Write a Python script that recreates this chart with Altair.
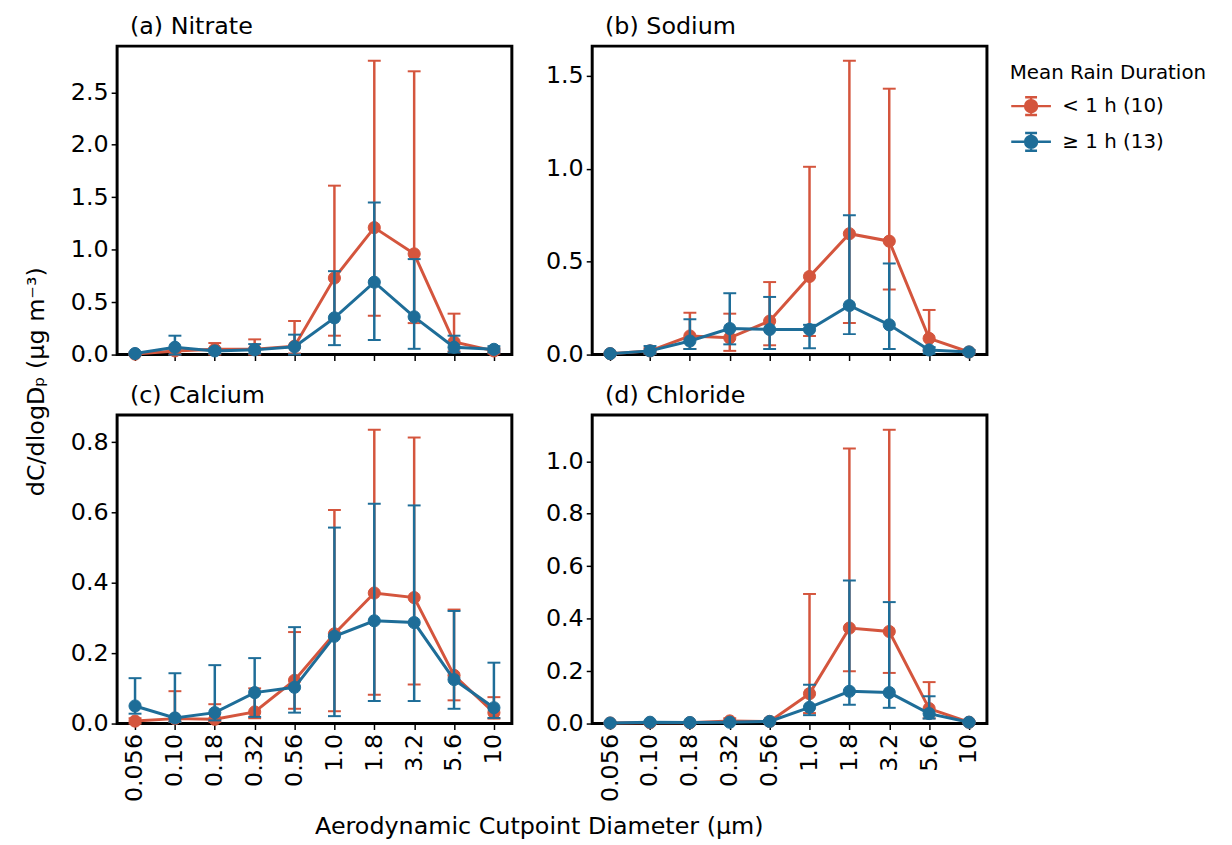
import altair as alt
import pandas as pd

FONT = "DejaVu Sans"

sizes = ["0.056", "0.10", "0.18", "0.32", "0.56", "1.0", "1.8", "3.2", "5.6", "10"]
groups = ["< 1 h (10)", "≥ 1 h (13)"]
colors = ["#d4553d", "#1e6d98"]

# (a) Nitrate
nit_lt_mean = [0.005, 0.035, 0.05, 0.05, 0.08, 0.73, 1.21, 0.96, 0.12, 0.035]
nit_lt_lo = [0.0, 0.0, 0.0, 0.0, 0.01, 0.18, 0.37, 0.30, 0.03, 0.01]
nit_lt_hi = [0.02, 0.06, 0.11, 0.145, 0.32, 1.61, 2.80, 2.70, 0.39, 0.06]
nit_ge_mean = [0.01, 0.07, 0.035, 0.045, 0.075, 0.35, 0.69, 0.36, 0.07, 0.05]
nit_ge_lo = [0.0, 0.0, 0.01, 0.01, 0.0, 0.09, 0.14, 0.055, 0.02, 0.02]
nit_ge_hi = [0.02, 0.18, 0.06, 0.10, 0.19, 0.795, 1.45, 0.91, 0.18, 0.08]

# (b) Sodium
sod_lt_mean = [0.005, 0.02, 0.10, 0.09, 0.18, 0.42, 0.65, 0.61, 0.087, 0.014]
sod_lt_lo = [0.0, 0.005, 0.03, 0.02, 0.05, 0.10, 0.17, 0.35, 0.02, 0.005]
sod_lt_hi = [0.01, 0.035, 0.225, 0.22, 0.39, 1.01, 1.58, 1.43, 0.24, 0.025]
sod_ge_mean = [0.005, 0.02, 0.073, 0.14, 0.135, 0.135, 0.264, 0.16, 0.025, 0.014]
sod_ge_lo = [0.0, 0.005, 0.03, 0.055, 0.03, 0.034, 0.11, 0.03, 0.005, 0.005]
sod_ge_hi = [0.01, 0.046, 0.19, 0.33, 0.31, 0.16, 0.75, 0.49, 0.04, 0.025]

# (c) Calcium
cal_lt_mean = [0.007, 0.014, 0.012, 0.033, 0.123, 0.255, 0.371, 0.358, 0.137, 0.031]
cal_lt_lo = [0.0, 0.005, 0.005, 0.015, 0.042, 0.035, 0.082, 0.111, 0.066, 0.014]
cal_lt_hi = [0.015, 0.092, 0.055, 0.10, 0.26, 0.607, 0.835, 0.813, 0.324, 0.075]
cal_ge_mean = [0.05, 0.016, 0.031, 0.088, 0.103, 0.248, 0.292, 0.287, 0.125, 0.045]
cal_ge_lo = [0.028, 0.005, 0.009, 0.019, 0.031, 0.021, 0.064, 0.064, 0.042, 0.016]
cal_ge_hi = [0.129, 0.143, 0.166, 0.186, 0.274, 0.557, 0.625, 0.62, 0.32, 0.173]

# (d) Chloride
chl_lt_mean = [0.002, 0.003, 0.003, 0.01, 0.008, 0.114, 0.364, 0.351, 0.057, 0.005]
chl_lt_lo = [0.0, 0.0, 0.0, 0.003, 0.003, 0.04, 0.199, 0.193, 0.02, 0.002]
chl_lt_hi = [0.004, 0.006, 0.006, 0.02, 0.014, 0.494, 1.049, 1.12, 0.158, 0.008]
chl_ge_mean = [0.002, 0.005, 0.004, 0.005, 0.008, 0.062, 0.123, 0.118, 0.038, 0.005]
chl_ge_lo = [0.0, 0.002, 0.002, 0.002, 0.004, 0.032, 0.072, 0.06, 0.019, 0.002]
chl_ge_hi = [0.004, 0.008, 0.006, 0.008, 0.012, 0.148, 0.545, 0.463, 0.104, 0.008]

yticks_a = [0.0, 0.5, 1.0, 1.5, 2.0, 2.5]
yticks_b = [0.0, 0.5, 1.0, 1.5]
yticks_c = [0.0, 0.2, 0.4, 0.6, 0.8]
yticks_d = [0.0, 0.2, 0.4, 0.6, 0.8, 1.0]

LEGEND_PATH = ("M-1,0L1,0M0,-0.45L0,0.45M-0.3,-0.45L0.3,-0.45M-0.3,0.45L0.3,0.45"
               "M-0.3,0A0.3,0.3,0,1,0,0.3,0A0.3,0.3,0,1,0,-0.3,0Z")

legend = alt.Legend(
    title="Mean Rain Duration", titleFontSize=20, labelFontSize=20,
    titleFont=FONT, labelFont=FONT, titleFontWeight="normal",
    titleColor="black", labelColor="black", titleLimit=400, labelLimit=300,
    symbolType=LEGEND_PATH, symbolSize=1600, symbolStrokeWidth=2.5,
    symbolOpacity=1, labelOffset=10, rowPadding=-2, titlePadding=2,
    orient="right", offset=4, padding=17,
)
cscale = alt.Scale(domain=groups, range=colors)


def panel(title, lt, ge, yticks, show_labels):
    frames = []
    for g, (m, lo, hi) in zip(groups, (lt, ge)):
        frames.append(pd.DataFrame({"size": sizes, "group": g, "mean": m, "lo": lo, "hi": hi}))
    df = pd.concat(frames, ignore_index=True)
    ymax = 1.05 * float(df["hi"].max())

    xaxis = alt.Axis(
        title=None, labels=show_labels, labelAngle=270, labelFontSize=24, labelFont=FONT,
        labelColor="black", ticks=True, tickSize=6, tickWidth=1.5, tickColor="black",
        domain=False, grid=False, labelPadding=4,
    )
    yaxis = alt.Axis(
        title=None, values=yticks, format=".1f", labelFontSize=24, labelFont=FONT,
        labelColor="black", tickSize=6, tickWidth=1.5, tickColor="black",
        domain=False, grid=False, labelPadding=3,
    )
    x = alt.X("size:O", sort=sizes, scale=alt.Scale(type="point", padding=0.45), axis=xaxis)
    ysc = alt.Scale(domain=[0, ymax], nice=False, zero=True)

    layers = []
    for g, c in zip(groups, colors):
        sub = df[df["group"] == g]
        base = alt.Chart(sub)
        layers.append(base.mark_rule(color=c, strokeWidth=2.5).encode(
            x=x, y=alt.Y("lo:Q", scale=ysc, axis=yaxis), y2="hi:Q"))
        layers.append(base.mark_tick(color=c, size=13, thickness=2, opacity=1).encode(
            x=x, y=alt.Y("lo:Q", scale=ysc, axis=yaxis)))
        layers.append(base.mark_tick(color=c, size=13, thickness=2, opacity=1).encode(
            x=x, y=alt.Y("hi:Q", scale=ysc, axis=yaxis)))
        layers.append(base.mark_line(color=c, strokeWidth=3).encode(
            x=x, y=alt.Y("mean:Q", scale=ysc, axis=yaxis)))
        layers.append(base.mark_point(filled=True, size=150, opacity=1, strokeWidth=1).encode(
            x=x, y=alt.Y("mean:Q", scale=ysc, axis=yaxis),
            fill=alt.Fill("group:N", scale=cscale, legend=legend),
            stroke=alt.Stroke("group:N", scale=cscale, legend=legend),
        ))
    return alt.layer(*layers).properties(
        width=398, height=311,
        title=alt.TitleParams(text=title, anchor="start", frame="group", fontSize=24, font=FONT,
                              fontWeight="normal", color="black", offset=7, dx=13),
    )


pa = panel("(a) Nitrate", (nit_lt_mean, nit_lt_lo, nit_lt_hi), (nit_ge_mean, nit_ge_lo, nit_ge_hi), yticks_a, False)
pb = panel("(b) Sodium", (sod_lt_mean, sod_lt_lo, sod_lt_hi), (sod_ge_mean, sod_ge_lo, sod_ge_hi), yticks_b, False)
pc = panel("(c) Calcium", (cal_lt_mean, cal_lt_lo, cal_lt_hi), (cal_ge_mean, cal_ge_lo, cal_ge_hi), yticks_c, True)
pd_ = panel("(d) Chloride", (chl_lt_mean, chl_lt_lo, chl_lt_hi), (chl_ge_mean, chl_ge_lo, chl_ge_hi), yticks_d, True)

row1 = alt.hconcat(pa, pb, spacing=30).resolve_scale(y="independent")
row2 = alt.hconcat(pc, pd_, spacing=30).resolve_scale(y="independent")

grid = alt.vconcat(row1, row2, spacing=14).properties(
    title=alt.TitleParams(text="dC/dlogDₚ (μg m⁻³)", orient="left", anchor="middle",
                          fontSize=24, font=FONT, fontWeight="normal", color="black",
                          offset=20, dx=27)
)

chart = alt.vconcat(grid).properties(
    title=alt.TitleParams(text="Aerodynamic Cutpoint Diameter (μm)", orient="bottom",
                          anchor="middle", fontSize=24, font=FONT, fontWeight="normal",
                          color="black", offset=12, dx=-86)
).configure(
    padding={"left": 17, "top": 2, "right": 0, "bottom": 0},
    view=alt.ViewConfig(stroke="black", strokeWidth=3),
    axis=alt.AxisConfig(labelFontSize=24, labelFont=FONT, labelColor="black"),
)

chart.save("out.html", embed_options={"renderer": "svg", "actions": False})
